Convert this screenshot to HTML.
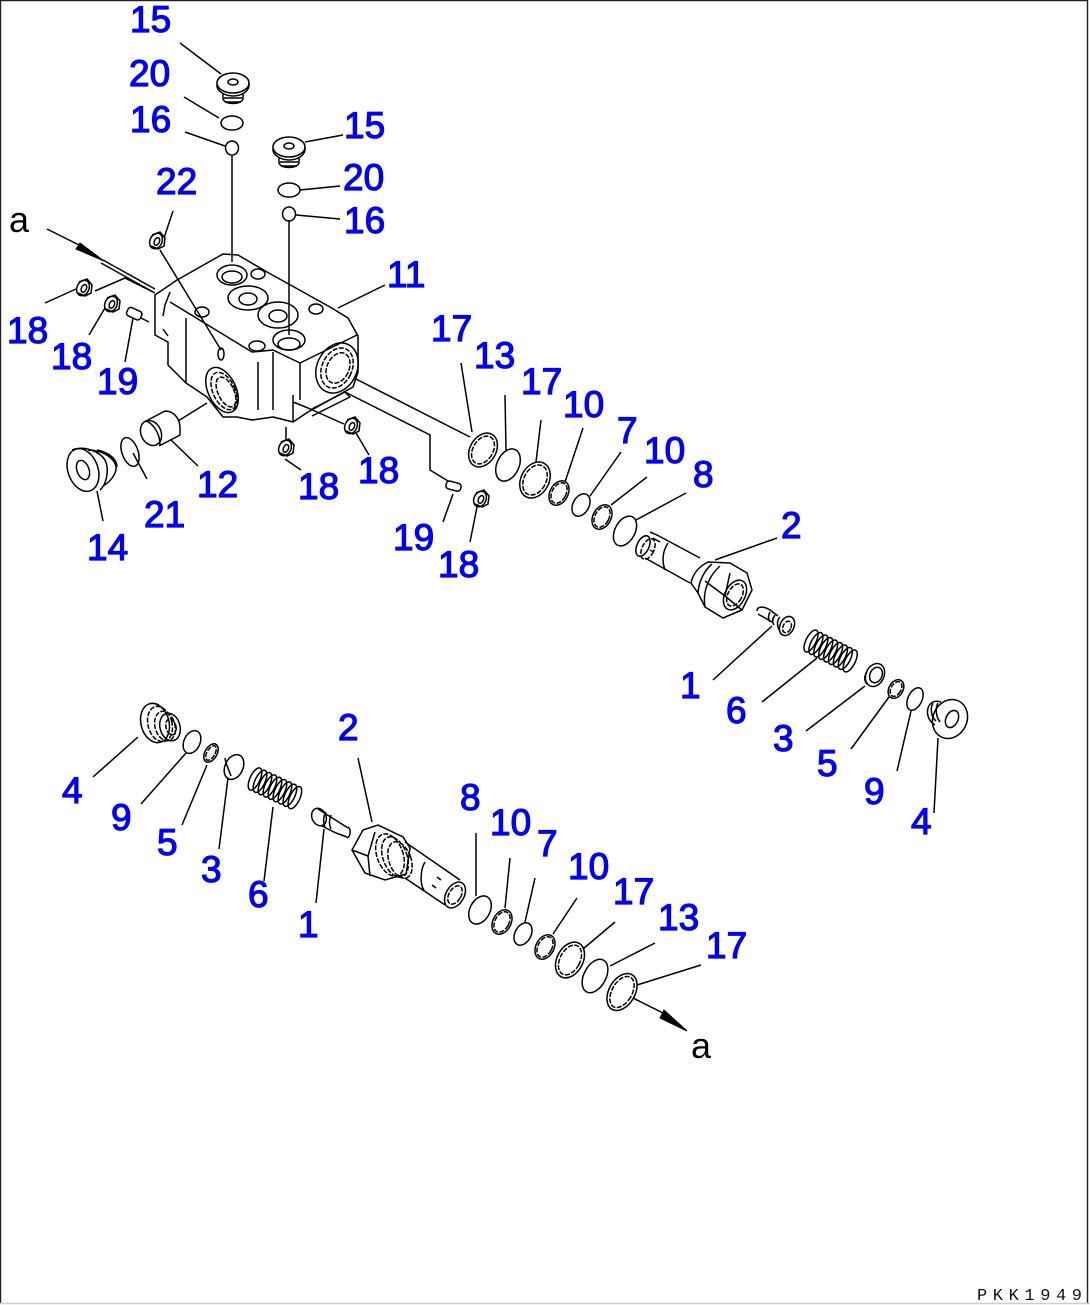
<!DOCTYPE html>
<html><head><meta charset="utf-8"><style>
html,body{margin:0;padding:0;background:#fff}
svg{display:block}
.l{fill:none;stroke:#000;stroke-width:1.5}
.t{font-family:"Liberation Sans",sans-serif;font-size:37px;fill:#0000f5;stroke:#0000f5;stroke-width:1.2}
.a{font-family:"Liberation Sans",sans-serif;font-size:36px;fill:#000}
.d{stroke-dasharray:5 1.5}
</style></head><body>
<svg width="1090" height="1305" viewBox="0 0 1090 1305" xmlns="http://www.w3.org/2000/svg">
<rect width="1090" height="1305" fill="#fff"/>
<path d="M.5 1303V.5H1087.5V1303" fill="none" stroke="#222" stroke-width="1.4"/>
<path d="M0 1303.5H1090" stroke="#ccc" stroke-width="1.5"/>
<defs>
<g id="spring" class="l">
<ellipse cx="0" cy="0" rx="5" ry="12"/><ellipse cx="5.5" cy="0" rx="5" ry="12"/><ellipse cx="11" cy="0" rx="5" ry="12"/><ellipse cx="16.5" cy="0" rx="5" ry="12"/><ellipse cx="22" cy="0" rx="5" ry="12"/><ellipse cx="27.5" cy="0" rx="5" ry="12"/><ellipse cx="33" cy="0" rx="5" ry="12"/><ellipse cx="38.5" cy="0" rx="5" ry="12"/><ellipse cx="44" cy="0" rx="5" ry="12"/>
</g>
<g id="plugtop" class="l">
<ellipse cx="0" cy="0" rx="16" ry="10"/><ellipse cx="0" cy="-1" rx="5" ry="3"/><path d="M-16 1V4C-14 10-6 13 0 13 8 13 15 9 16 3V0"/><path d="M-10 11V16C-8 22 8 22 10 16V10"/><path d="M-9 15H9M-8 19H8"/>
</g>
<g id="small" class="l">
<ellipse cx="0" cy="0" rx="6" ry="8" transform="rotate(25)"/><ellipse cx="1" cy="0" rx="2.5" ry="4" transform="rotate(25)"/><path d="M-4 -6L4 -9 9 -3 8 5 2 8-5 5"/>
</g>
</defs>

<!-- leaders -->
<g class="l">
<path d="M180 43L221 74"/><path d="M184 97L219 118"/><path d="M185 132L225 146"/>
<path d="M232 156V262"/><path d="M289 220V335"/>
<path d="M305 142L343 135"/><path d="M300 190L340 186"/><path d="M296 215L340 219"/>
<path d="M173 211L164 238"/><path d="M160 250L221 350"/>
<path d="M338 308L385 285"/>
<path d="M45 303L76 289"/><path d="M89 335L105 308"/><path d="M125 362L133 318"/>
<path d="M95 291L125 278 155 293"/><path d="M141 318L149 322"/>
<path d="M178 421L207 403"/><path d="M171 440L198 466"/><path d="M133 453L147 479"/><path d="M97 491L103 521"/>
<path d="M286 427V440"/><path d="M285 459L301 470"/><path d="M356 433L369 455"/><path d="M308 408L344 424"/>
<path d="M354 378L470 437"/><path d="M345 392L430 435V470L448 481"/>
<path d="M453 494L443 522"/><path d="M477 507L470 542"/>
<path d="M461 363L472 432"/><path d="M505 395L506 450"/><path d="M541 420L536 462"/><path d="M583 428L565 482"/><path d="M621 452L590 496"/><path d="M647 477L611 505"/><path d="M686 493L636 520"/><path d="M777 538L715 560"/>
<path d="M713 680L772 626"/><path d="M762 702L817 658"/><path d="M806 731L865 686"/><path d="M851 749L889 697"/><path d="M897 771L911 711"/><path d="M934 813L938 738"/>
<path d="M93 777L138 737"/><path d="M141 804L186 753"/><path d="M182 825L207 765"/><path d="M219 849L228 778"/><path d="M264 881L273 807"/><path d="M316 903L324 829"/>
<path d="M358 758L372 822"/>
<path d="M476 833V896"/><path d="M510 858L505 908"/><path d="M535 878L525 922"/><path d="M577 898L553 934"/><path d="M615 922L583 949"/><path d="M655 943L610 966"/><path d="M701 965L637 985"/>
<path d="M633 998L665 1014"/>
<path d="M47 229L81 246"/><path d="M103 260L155 289M101 263L153 292"/>
</g>
<path d="M80 243L104 261 76 249Z" fill="#000" stroke="#000"/>
<path d="M664 1010L687 1031 660 1018Z" fill="#000" stroke="#000"/>

<!-- top plugs and rings -->
<use href="#plugtop" x="233" y="83"/>
<use href="#plugtop" x="289" y="147"/>
<g class="l">
<ellipse cx="232" cy="123" rx="11" ry="7"/><ellipse cx="232" cy="148" rx="6.5" ry="7"/>
<ellipse cx="289" cy="190" rx="11" ry="7"/><ellipse cx="289" cy="214" rx="6.5" ry="7"/>
</g>
<use href="#small" x="156" y="241"/>
<use href="#small" x="83" y="288"/>
<use href="#small" x="111" y="304"/>

<!-- body -->
<g class="l" stroke-linejoin="round">
<path d="M177 280L223 254 238 255 267 272 330 307 348 318 358 336V372L353 387 308 412 293 422 273 417 252 420 237 417 223 417 207 397 186 383 168 365V342L155 335V295Z"/>
<path d="M170 302L252 352 273 350 300 363V400M300 363L357 335"/>
<path d="M186 318V383M258 362V410M273 352V410M293 395V422M293 395V402L308 408"/>
<path d="M170 292L165 305 163 316M163 329L168 336"/>
<ellipse cx="232" cy="275" rx="15" ry="10"/><ellipse cx="232" cy="277" rx="10" ry="6"/><ellipse cx="258" cy="274" rx="7" ry="5"/>
<ellipse cx="248" cy="298" rx="20" ry="12"/><ellipse cx="248" cy="299" rx="9" ry="6"/>
<ellipse cx="278" cy="315" rx="20" ry="13"/><ellipse cx="278" cy="316" rx="9" ry="6"/>
<ellipse cx="289" cy="340" rx="16" ry="10"/><ellipse cx="289" cy="344" rx="11" ry="6"/>
<ellipse cx="316" cy="309" rx="7" ry="5"/><ellipse cx="257" cy="346" rx="8" ry="5"/><ellipse cx="202" cy="312" rx="7" ry="5"/>
<ellipse cx="221" cy="354" rx="3" ry="6"/>
<ellipse cx="337" cy="368" rx="20" ry="26" transform="rotate(25 337 368)"/><ellipse cx="337" cy="368" rx="15" ry="21" class="d" transform="rotate(25 337 368)"/><ellipse cx="338" cy="368" rx="11" ry="16" class="d" transform="rotate(25 338 368)"/>
<ellipse cx="222" cy="390" rx="14" ry="24" transform="rotate(-25 222 390)"/><ellipse cx="224" cy="391" rx="11" ry="20" class="d" transform="rotate(-25 224 391)"/><ellipse cx="226" cy="392" rx="8" ry="16" class="d" transform="rotate(-25 226 392)"/>
<path d="M310 410L345 392 350 397 312 416"/>
</g>

<!-- 12 sleeve, 21, 14 -->
<g class="l">
<path d="M146 421L165 411C175 411 180 420 180 428V435L159 446"/><ellipse cx="151" cy="433" rx="10" ry="13" transform="rotate(-25 151 433)"/><path d="M146 421C152 423 160 432 160 445"/>
<ellipse cx="130" cy="452" rx="8" ry="15" transform="rotate(-20 130 452)"/>
<ellipse cx="83" cy="470" rx="15" ry="22" transform="rotate(-20 83 470)"/><ellipse cx="83" cy="470" rx="6" ry="10" transform="rotate(-20 83 470)"/>
<path d="M72 450C85 445 100 452 105 460 110 470 106 485 100 490M88 450C100 450 113 456 116 466 117 474 110 482 103 486M97 450C107 452 117 458 117 467"/>
</g>
<use href="#small" x="285" y="448"/>
<use href="#small" x="351" y="426"/>
<use href="#small" x="480" y="499"/>
<g class="l">
<rect x="446" y="482" width="15" height="8" rx="3" transform="rotate(15 453 486)"/>
<rect x="127" y="309" width="15" height="9" rx="3" transform="rotate(25 134 313)"/>
</g>

<!-- upper rings -->
<g class="l">
<ellipse cx="483" cy="450" rx="13" ry="18" transform="rotate(30 483 450)"/><ellipse cx="483" cy="450" rx="10" ry="15" class="d" transform="rotate(30 483 450)"/>
<ellipse cx="508" cy="465" rx="11" ry="17" transform="rotate(25 508 465)"/>
<ellipse cx="535" cy="480" rx="14" ry="19" transform="rotate(28 535 480)"/><ellipse cx="535" cy="480" rx="11" ry="16" class="d" transform="rotate(28 535 480)"/>
<ellipse cx="559" cy="493" rx="9" ry="13" transform="rotate(28 559 493)"/><ellipse cx="559" cy="493" rx="7" ry="11" class="d" transform="rotate(28 559 493)"/>
<ellipse cx="581" cy="505" rx="8" ry="12" transform="rotate(28 581 505)"/>
<ellipse cx="602" cy="517" rx="9" ry="13" transform="rotate(28 602 517)"/><ellipse cx="602" cy="517" rx="7" ry="11" class="d" transform="rotate(28 602 517)"/>
<ellipse cx="625" cy="531" rx="10" ry="16" transform="rotate(28 625 531)"/>
<!-- part 2 upper -->
<ellipse cx="643" cy="546" rx="6" ry="11" transform="rotate(25 643 546)"/>
<ellipse cx="648" cy="549" rx="6" ry="11" class="d" transform="rotate(25 648 549)"/>
<path d="M650 532L657 535 700 558M645 558L690 583"/>
<path d="M668 543C662 552 662 562 665 570"/>
<path d="M653 538L660 542M650 550L654 552"/>
<path d="M708 562L730 563 747 573 752 590 742 610 723 618 705 607 698 593 691 583C693 573 700 566 708 562Z"/>
<path d="M698 593C699 580 705 570 712 564M705 607C702 590 710 575 720 566M705 581L725 596 742 610M725 596L730 573"/>
<ellipse cx="735" cy="595" rx="10" ry="16" transform="rotate(28 735 595)"/><ellipse cx="735" cy="595" rx="7" ry="12" class="d" transform="rotate(28 735 595)"/>
<!-- part 1 upper -->
<path d="M757 611C757 606 764 606 770 610L778 616M758 614L772 622"/>
<ellipse cx="787" cy="626" rx="7" ry="10" transform="rotate(25 787 626)"/><ellipse cx="787" cy="627" rx="4" ry="6" class="d" transform="rotate(25 787 627)"/>
<path d="M770 612C768 616 768 618 770 622M775 615C772 619 772 622 774 625M780 617C777 620 777 625 779 630"/>
</g>
<use href="#spring" transform="translate(811 641) rotate(27)"/>
<g class="l">
<ellipse cx="875" cy="675" rx="9" ry="12" transform="rotate(25 875 675)"/><ellipse cx="876" cy="675" rx="6" ry="8" transform="rotate(25 876 675)"/><path d="M867 672C864 676 864 681 867 684"/>
<ellipse cx="896" cy="689" rx="7" ry="10" transform="rotate(30 896 689)"/><ellipse cx="896" cy="689" rx="5" ry="8" class="d" transform="rotate(30 896 689)"/>
<ellipse cx="915" cy="699" rx="7" ry="12" transform="rotate(25 915 699)"/>
<ellipse cx="950" cy="719" rx="17" ry="20" transform="rotate(25 950 719)"/><ellipse cx="952" cy="719" rx="6" ry="9" transform="rotate(25 952 719)"/>
<path d="M941 702C935 700 930 702 928 708 926 716 930 722 935 725M933 703C930 708 931 717 936 721M938 703C935 708 936 717 940 722"/>
</g>

<!-- lower left -->
<g class="l">
<ellipse cx="155" cy="723" rx="14" ry="20" transform="rotate(-15 155 723)"/>
<ellipse cx="170" cy="727" rx="10" ry="14" transform="rotate(-15 170 727)"/><ellipse cx="171" cy="727" rx="5" ry="8" class="d" transform="rotate(-15 171 727)"/>
<ellipse cx="160" cy="724" rx="12" ry="18" class="d" transform="rotate(-15 160 724)"/><ellipse cx="165" cy="726" rx="10" ry="15" class="d" transform="rotate(-15 165 726)"/>
<ellipse cx="192" cy="742" rx="8" ry="12" transform="rotate(25 192 742)"/>
<ellipse cx="211" cy="753" rx="6" ry="10" transform="rotate(30 211 753)"/><ellipse cx="211" cy="753" rx="4" ry="8" class="d" transform="rotate(30 211 753)"/>
<ellipse cx="234" cy="767" rx="9" ry="13" transform="rotate(25 234 767)"/><path d="M225 758C226 765 229 770 231 776"/>
</g>
<use href="#spring" transform="translate(255 779) rotate(25)"/>
<g class="l">
<ellipse cx="319" cy="817" rx="7" ry="9" transform="rotate(-25 319 817)"/><path d="M318 809L337 821 348 828M322 826L336 833 347 837"/><path d="M348 827C351 829 351 836 347 838M326 812C323 817 323 822 325 827M331 815C329 820 329 825 331 829"/>
<!-- part 2 lower -->
<path d="M352 850L363 830 378 825 403 837 410 848 406 874 385 880 365 873Z"/>
<path d="M352 850L368 856 375 832M368 856L370 876"/>
<ellipse cx="390" cy="855" rx="13" ry="22" class="d" transform="rotate(-20 390 855)"/><ellipse cx="395" cy="857" rx="12" ry="21" class="d" transform="rotate(-20 395 857)"/><ellipse cx="400" cy="860" rx="11" ry="19" class="d" transform="rotate(-20 400 860)"/>
<path d="M405 842L460 880M405 878L445 905"/>
<path d="M425 862C420 870 420 885 424 890"/>
<ellipse cx="455" cy="895" rx="9" ry="14" transform="rotate(30 455 895)"/><ellipse cx="455" cy="895" rx="6" ry="10" class="d" transform="rotate(30 455 895)"/>
<path d="M437 877L441 880M432 885L436 888"/>
<!-- lower rings -->
<ellipse cx="480" cy="910" rx="10" ry="15" transform="rotate(28 480 910)"/>
<ellipse cx="502" cy="922" rx="9" ry="13" transform="rotate(28 502 922)"/><ellipse cx="502" cy="922" rx="7" ry="11" class="d" transform="rotate(28 502 922)"/>
<ellipse cx="523" cy="934" rx="8" ry="12" transform="rotate(28 523 934)"/>
<ellipse cx="545" cy="947" rx="9" ry="13" transform="rotate(28 545 947)"/><ellipse cx="545" cy="947" rx="7" ry="11" class="d" transform="rotate(28 545 947)"/>
<ellipse cx="570" cy="960" rx="13" ry="19" transform="rotate(28 570 960)"/><ellipse cx="570" cy="960" rx="10" ry="16" class="d" transform="rotate(28 570 960)"/>
<ellipse cx="595" cy="976" rx="11" ry="18" transform="rotate(28 595 976)"/>
<ellipse cx="622" cy="992" rx="13" ry="20" transform="rotate(30 622 992)"/><ellipse cx="622" cy="992" rx="10" ry="17" class="d" transform="rotate(30 622 992)"/>
</g>

<!-- labels -->
<g class="t">
<text x="130" y="32">15</text><text x="129" y="86">20</text><text x="130" y="132">16</text>
<text x="344" y="138">15</text><text x="343" y="190">20</text><text x="344" y="233">16</text>
<text x="156" y="194">22</text><text x="387" y="287">11</text>
<text x="7" y="343">18</text><text x="51" y="369">18</text><text x="97" y="394">19</text>
<text x="431" y="341">17</text><text x="474" y="368">13</text><text x="521" y="394">17</text>
<text x="563" y="417">10</text><text x="617" y="443">7</text><text x="644" y="463">10</text><text x="693" y="487">8</text><text x="781" y="538">2</text>
<text x="680" y="698">1</text><text x="726" y="723">6</text><text x="773" y="751">3</text><text x="817" y="776">5</text><text x="864" y="804">9</text><text x="911" y="834">4</text>
<text x="197" y="497">12</text><text x="144" y="527">21</text><text x="87" y="560">14</text>
<text x="298" y="499">18</text><text x="358" y="483">18</text><text x="393" y="550">19</text><text x="438" y="577">18</text>
<text x="338" y="740">2</text><text x="62" y="803">4</text><text x="111" y="830">9</text><text x="157" y="855">5</text><text x="201" y="882">3</text><text x="248" y="907">6</text><text x="298" y="937">1</text>
<text x="460" y="810">8</text><text x="490" y="835">10</text><text x="537" y="856">7</text><text x="568" y="879">10</text><text x="613" y="904">17</text><text x="658" y="930">13</text><text x="706" y="958">17</text>
</g>
<text class="a" x="9" y="232">a</text>
<text class="a" x="691" y="1058">a</text>
<text x="977" y="1300" style="font-family:'Liberation Mono',monospace;font-size:17px;fill:#111;letter-spacing:5.6px">PKK1949</text>
</svg>
</body></html>
